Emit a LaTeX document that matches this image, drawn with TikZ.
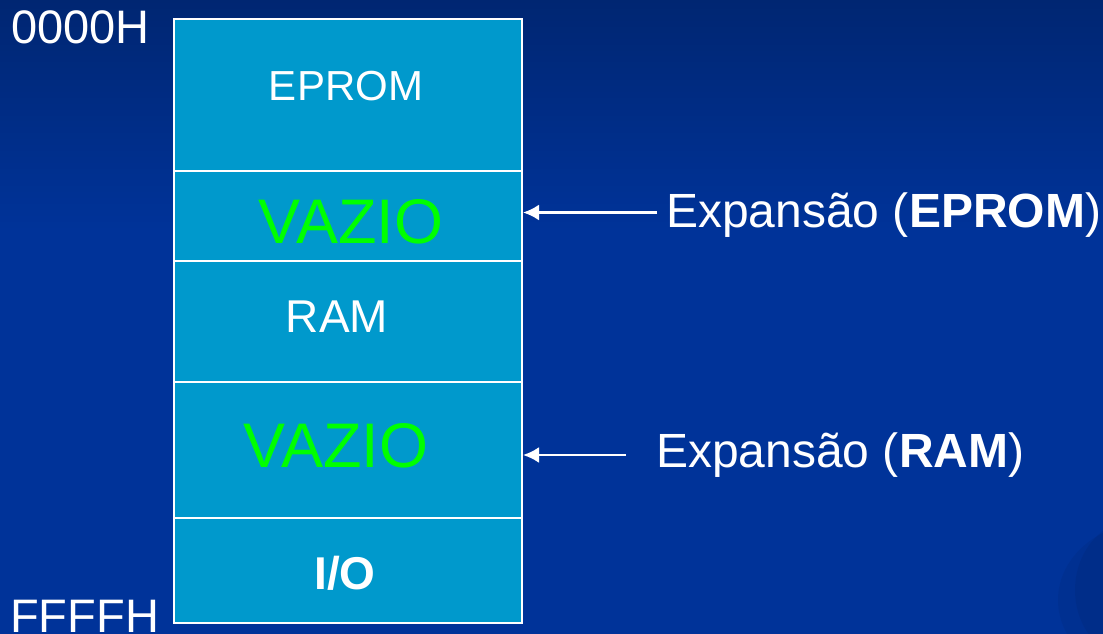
\documentclass[tikz,border=0pt]{standalone}
\usepackage{fontspec}
\setmainfont{Liberation Sans}
\usetikzlibrary{arrows.meta}
\definecolor{bgtop}{RGB}{0,38,114}
\definecolor{bgbot}{RGB}{0,51,153}
\definecolor{cellblue}{RGB}{0,153,204}
\definecolor{vazgreen}{RGB}{0,255,0}
\tikzset{
  x=1pt, y=-1pt,
  cell/.style={draw=white, line width=2pt, fill=cellblue, inner sep=0pt,
    anchor=north west, minimum width=348pt, rectangle},
  txt/.style={text=white, inner sep=0pt, anchor=base},
  addr/.style={text=white, inner sep=0pt, anchor=base west,
    font=\fontsize{47}{50}\selectfont},
  expl/.style={text=white, inner sep=0pt, anchor=base west,
    font=\fontsize{48}{52}\selectfont},
  pointer/.style={draw=white, line width=2.5pt, -{Latex[length=16pt,width=16pt]}}
}
\begin{document}
\begin{tikzpicture}
\useasboundingbox (0,0) rectangle (1103,634);
% background: darker band at the top fading into the slide blue
\fill[bgbot] (0,0) rectangle (1103,634);
\shade[top color=bgtop, bottom color=bgbot] (0,0) rectangle (1103,230);
% faint swoosh in the lower right corner
\begin{scope}
  \clip (0,0) rectangle (1103,634);
  \fill[black, opacity=0.05] (1150,600) ellipse [x radius=92pt, y radius=78pt];
  \fill[black, opacity=0.05] (1140,590) ellipse [x radius=65pt, y radius=72pt];
\end{scope}

% memory map cells
\node[cell, minimum height=152pt] (eprom) at (173,18) {};
\node[cell, minimum height=90pt]  (vaz1)  at (173,170) {};
\node[cell, minimum height=121pt] (ram)   at (173,260) {};
\node[cell, minimum height=136pt] (vaz2)  at (173,381) {};
\node[cell, minimum height=105pt] (io)    at (173,517) {};

% cell labels
\node[txt, font=\fontsize{42}{46}\selectfont] (teprom) at (346,100) {EPROM};
\node[txt, text=vazgreen, font=\fontsize{63}{66}\selectfont] (tvaz1) at (351,243) {VAZIO};
\node[txt, font=\fontsize{46}{50}\selectfont] (tram) at (337,332) {RAM};
\node[txt, text=vazgreen, font=\fontsize{63}{66}\selectfont] (tvaz2) at (336,467) {VAZIO};
\node[txt, font=\bfseries\fontsize{46}{50}\selectfont] (tio) at (345,589) {I/O};

% addresses
\node[addr] (start) at (11,43.5) {0000H};
\node[addr] (finish) at (10,632) {FFFFH};

% expansion notes
\node[expl] (xeprom) at (666,227) {Expansão (\textbf{EPROM})};
\node[expl] (xram) at (656,467) {Expansão (\textbf{RAM})};

\coordinate (p1) at (657,212.5);
\coordinate (p2) at (626,455);
\draw[pointer] (p1) -- (vaz1.east |- p1);
\draw[pointer] (p2) -- (vaz2.east |- p2);
\end{tikzpicture}
\end{document}
